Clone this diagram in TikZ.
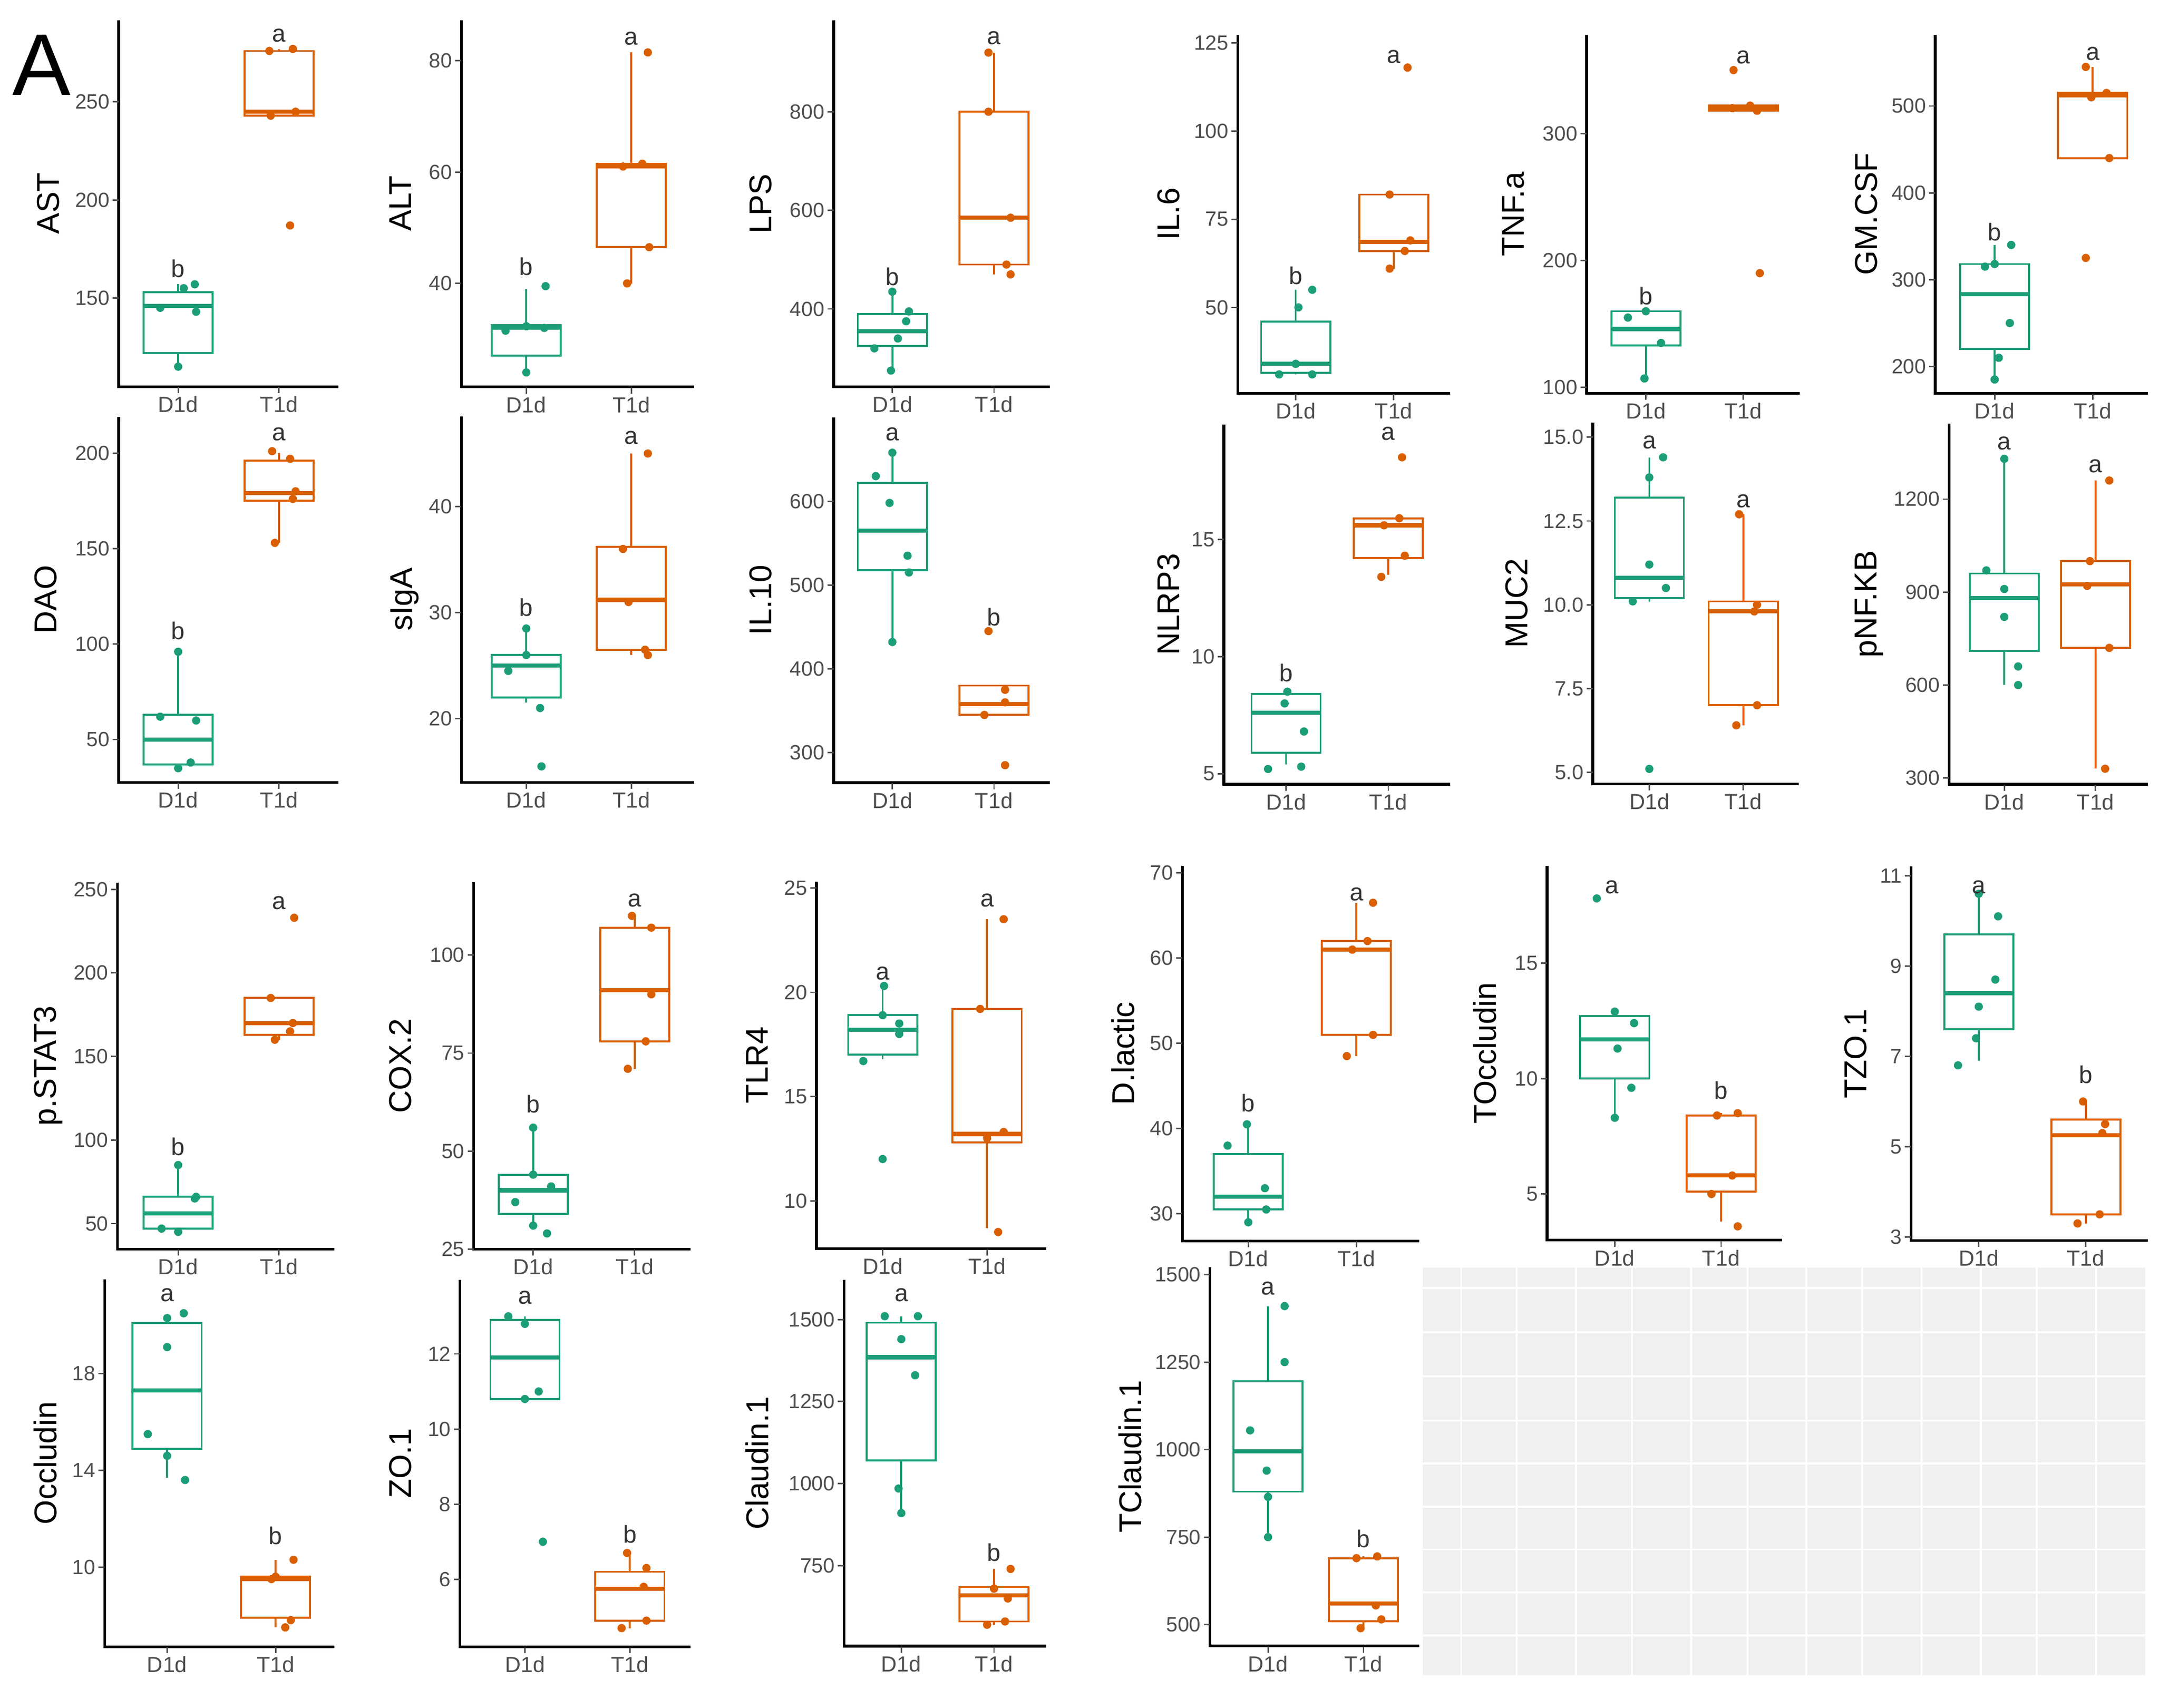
\documentclass[tikz,border=0pt]{standalone}
\usepackage{fontspec}
\setmainfont{Liberation Sans}
\usetikzlibrary{positioning}

\definecolor{dgreen}{HTML}{1B9E77}
\definecolor{dorange}{HTML}{D95F02}
\definecolor{tickgray}{HTML}{4D4D4D}

\tikzset{
  axisline/.style={line width=1.1pt, black},
  tickline/.style={line width=0.6pt, tickgray},
  xtick/.style={anchor=north, inner sep=0pt, minimum width=0.6pt, minimum height=2.5pt, fill=tickgray},
  ylab/.style={left, inner sep=1pt, text=tickgray, font=\fontsize{8.5}{9}\selectfont},
  xlab/.style={anchor=north, inner sep=1pt, outer ysep=3pt, text=tickgray, font=\fontsize{9}{10}\selectfont},
  ytitle/.style={rotate=90, font=\fontsize{13}{14}\selectfont},
  boxline/.style={line width=0.8pt},
  medline/.style={line width=1.7pt},
  dot/.style={circle, inner sep=0pt, minimum size=0.12cm},
  grp/.style={font=\fontsize{10}{11}\selectfont, text=black!80}
}

% axes: L, x D1d, x T1d, R, bottom, top, title, ticks, title offset
\newcommand{\plotaxes}[9]{
  \draw[axisline] (#1,#6) -- (#1,#5) -- (#4,#5);
  \foreach \v in {#8}
    \draw[tickline] (#1,\v) -- ([xshift=-2.5pt]#1,\v) node[ylab] {\v};
  \node[xtick] at (#2,#5) {};
  \node[xtick] at (#3,#5) {};
  \node[xlab] at (#2,#5) {D1d};
  \node[xlab] at (#3,#5) {T1d};
  \node[ytitle] at (#1-#9,{(#5+#6)/2}) {#7};
}
% box: colour, x, lo, q1, med, q3, hi
\newcommand{\bx}[7]{
  \draw[#1, boxline] (#2,#3) -- (#2,#4) (#2,#6) -- (#2,#7);
  \draw[#1, boxline] (#2-25,#4) rectangle (#2+25,#6);
  \draw[#1, medline] (#2-25,#5) -- (#2+25,#5);
}
\newcommand{\pts}[3]{\foreach \dx/\v in {#3} \node[dot, fill=#1] at (#2+\dx,\v) {};}

\begin{document}
\begin{tikzpicture}[x=0.02cm, y=-0.02cm]
\useasboundingbox (0,0) rectangle (1563,1236.5);

\node[font=\fontsize{36}{36}\selectfont] (panelA) at (30,47) {A};

% row 1
\begin{scope}[shift={(0,428.8)}, yscale=-1.42]
  \plotaxes{86}{129}{202}{245}{104.8}{291.7}{AST}{150,200,250}{51}
  \bx{dgreen}{129}{115}{122}{146}{153}{157}
  \pts{dgreen}{129}{0/115,-13/145,13/143,4/155,12/157}
  \bx{dorange}{202}{243}{243}{245}{276}{277}
  \pts{dorange}{202}{-6/243,12/245,-7/276,10/277,8/187}
  \node[grp] (astb) at (129,165) {b};
  \node[grp] (asta) at (202,284) {a};
\end{scope}
\begin{scope}[shift={(0,366.4)}, yscale=-4.03]
  \plotaxes{334}{381}{457}{502.5}{21.4}{87.3}{ALT}{40,60,80}{44}
  \bx{dgreen}{381}{24}{27}{32}{32.5}{39}
  \pts{dgreen}{381}{0/24,-15/31.5,13/32,0/32.3,14/39.5}
  \bx{dorange}{457}{40}{46.5}{61}{61.5}{81.5}
  \pts{dorange}{457}{-3/40,13/46.5,-6/61,8/61.5,12/81.5}
  \node[grp] (altb) at (381,43) {b};
  \node[grp] (alta) at (457,84) {a};
\end{scope}
\begin{scope}[shift={(0,366.5)}, yscale=-0.357]
  \plotaxes{603.5}{646}{719.6}{760}{242}{985}{LPS}{400,600,800}{53}
  \bx{dgreen}{646}{275}{325}{355}{390}{435}
  \pts{dgreen}{646}{-1/275,-13/320,4/340,10/375,12/395,0/435}
  \bx{dorange}{719.6}{470}{490}{585}{800}{920}
  \pts{dorange}{719.6}{-4/920,-4/800,12/585,9/490,12/470}
  \node[grp] (lpsb) at (646,465) {b};
  \node[grp] (lpsa) at (719.6,950) {a};
\end{scope}
\begin{scope}[shift={(0,350.3)}, yscale=-2.554]
  \plotaxes{896}{938}{1009}{1050}{25.6}{127.3}{IL.6}{50,75,100,125}{50}
  \bx{dgreen}{938}{31}{31.5}{34}{46}{55}
  \pts{dgreen}{938}{-12/31,0/34,12/31,2/50,12/55}
  \bx{dorange}{1009}{61}{66}{68.5}{82}{82}
  \pts{dorange}{1009}{-3/61,8/66,12/69,-3/82,10/118}
  \node[grp] (il6b) at (938,59) {b};
  \node[grp] (il6a) at (1009,121) {a};
\end{scope}
\begin{scope}[shift={(0,372.4)}, yscale=-0.919]
  \plotaxes{1148.6}{1191.5}{1262}{1303}{95.3}{377.7}{TNF.a}{100,200,300}{53}
  \bx{dgreen}{1191.5}{110}{133}{146}{160}{160}
  \pts{dgreen}{1191.5}{-1/107,-13/155,0/160,11/135}
  \bx{dorange}{1262}{318}{318}{320}{322}{322}
  \pts{dorange}{1262}{-7/350,5/322,10/318,-8/320,12/190}
  \node[grp] (tnfb) at (1191.5,172) {b};
  \node[grp] (tnfa) at (1262,360) {a};
\end{scope}
\begin{scope}[shift={(0,391.1)}, yscale=-0.6287]
  \plotaxes{1401}{1444}{1515}{1555}{169}{582}{GM.CSF}{200,300,400,500}{50}
  \bx{dgreen}{1444}{185}{220}{283}{318}{340}
  \pts{dgreen}{1444}{0/185,3/210,11/250,-7/315,0/318,12/340}
  \bx{dorange}{1515}{440}{440}{512}{515}{545}
  \pts{dorange}{1515}{-5/545,10/515,-1/510,12/440,-5/325}
  \node[grp] (gmb) at (1444,355) {b};
  \node[grp] (gma) at (1515,560) {a};
\end{scope}

% row 2
\begin{scope}[shift={(0,604.7)}, yscale=-1.383]
  \plotaxes{86}{129}{202}{245}{27.6}{219}{DAO}{50,100,150,200}{53}
  \bx{dgreen}{129}{35}{37}{50}{63}{97}
  \pts{dgreen}{129}{0/35,9/38,-13/62,13/60,0/96}
  \bx{dorange}{202}{153}{175}{179}{196}{200}
  \pts{dorange}{202}{-3/153,10/176,12/180,8/197,-5/201}
  \node[grp] (daob) at (129,107) {b};
  \node[grp] (daoa) at (202,210) {a};
\end{scope}
\begin{scope}[shift={(0,674)}, yscale=-7.68]
  \plotaxes{334}{381}{457}{502.5}{14}{48.5}{sIgA}{20,30,40}{41}
  \bx{dgreen}{381}{21.5}{22}{25}{26}{28.5}
  \pts{dgreen}{381}{10/21,-13/24.5,0/26,0/28.5,11/15.5}
  \bx{dorange}{457}{26}{26.5}{31.2}{36.2}{45}
  \pts{dorange}{457}{-6/36,-2/31,12/26,10/26.5,12/45}
  \node[grp] (igab) at (381,30.5) {b};
  \node[grp] (igaa) at (457,46.5) {a};
\end{scope}
\begin{scope}[shift={(0,727)}, yscale=-0.6067]
  \plotaxes{603.5}{646}{719.6}{760}{264}{700}{IL.10}{300,400,500,600}{53}
  \bx{dgreen}{646}{432}{518}{565}{622}{658}
  \pts{dgreen}{646}{-12/630,0/658,-2/598,11/535,12/515,0/432}
  \bx{dorange}{719.6}{345}{345}{358}{380}{380}
  \pts{dorange}{719.6}{-4/445,8/375,8/360,-7/345,8/285}
  \node[grp] (il10a) at (646,680) {a};
  \node[grp] (il10b) at (719.6,462) {b};
\end{scope}
\begin{scope}[shift={(0,645.1)}, yscale=-16.97]
  \plotaxes{886}{931}{1005}{1050}{4.55}{19.9}{NLRP3}{5,10,15}{40}
  \bx{dgreen}{931}{5.4}{5.9}{7.6}{8.4}{8.5}
  \pts{dgreen}{931}{-13/5.2,11/5.3,13/6.8,-1/8.0,1/8.5}
  \bx{dorange}{1005}{13.5}{14.2}{15.6}{15.9}{15.9}
  \pts{dorange}{1005}{-5/13.4,12/14.3,-3/15.6,8/15.9,10/18.5}
  \node[grp] (nlrb) at (931,9.3) {b};
  \node[grp] (nlra) at (1005,19.5) {a};
\end{scope}
\begin{scope}[shift={(0,680.5)}, yscale=-24.26]
  \plotaxes{1153}{1194}{1262}{1302}{4.65}{15.44}{MUC2}{5.0,7.5,10.0,12.5,15.0}{55}
  \bx{dgreen}{1194}{10.1}{10.2}{10.8}{13.2}{14.4}
  \pts{dgreen}{1194}{0/5.1,-12/10.1,12/10.5,0/11.2,0/13.8,10/14.4}
  \bx{dorange}{1262}{6.4}{7.0}{9.8}{10.1}{12.7}
  \pts{dorange}{1262}{-5/6.4,10/7.0,8/9.8,10/10.0,-3/12.7}
  \node[grp] (muca) at (1194,14.85) {a};
  \node[grp] (mucb) at (1262,13.1) {a};
\end{scope}
\begin{scope}[shift={(0,630.7)}, yscale=-0.2244]
  \plotaxes{1411}{1451}{1517}{1555}{280}{1443}{pNF.KB}{300,600,900,1200}{58}
  \bx{dgreen}{1451}{600}{710}{880}{960}{1330}
  \pts{dgreen}{1451}{10/600,10/660,0/820,0/910,-13/970,0/1330}
  \bx{dorange}{1517}{330}{720}{925}{1000}{1260}
  \pts{dorange}{1517}{7/330,10/720,-6/920,-4/1000,10/1260}
  \node[grp] (nfa) at (1451,1380) {a};
  \node[grp] (nfb) at (1517,1307) {a};
\end{scope}

% row 3
\begin{scope}[shift={(0,946.5)}, yscale=-1.21]
  \plotaxes{85}{129}{202}{242}{34.7}{254}{p.STAT3}{50,100,150,200,250}{50}
  \bx{dgreen}{129}{45}{47}{56}{66}{85}
  \pts{dgreen}{129}{-12/47,0/45,12/65,13/66,0/85}
  \bx{dorange}{202}{160}{163}{170}{185}{185}
  \pts{dorange}{202}{-3/160,8/165,10/170,-6/185,11/233}
  \node[grp] (statb) at (129,96) {b};
  \node[grp] (stata) at (202,242) {a};
\end{scope}
\begin{scope}[shift={(0,975.5)}, yscale=-2.839]
  \plotaxes{343}{386}{459.5}{500}{25}{118.6}{COX.2}{25,50,75,100}{53}
  \bx{dgreen}{386}{31}{34}{40}{44}{56}
  \pts{dgreen}{386}{0/31,10/29,-13/37,13/41,0/44,0/56}
  \bx{dorange}{459.5}{71}{78}{91}{107}{110}
  \pts{dorange}{459.5}{-5/71,8/78,12/90,12/107,-2/110}
  \node[grp] (coxb) at (386,62) {b};
  \node[grp] (coxa) at (459.5,114) {a};
\end{scope}
\begin{scope}[shift={(0,1020.5)}, yscale=-15.1]
  \plotaxes{591}{639}{714.6}{757.5}{7.7}{25.3}{TLR4}{10,15,20,25}{43}
  \bx{dgreen}{639}{16.8}{17}{18.2}{18.9}{20.3}
  \pts{dgreen}{639}{-14/16.7,0/12,12/18,12/18.5,0/18.9,1/20.3}
  \bx{dorange}{714.6}{8.7}{12.8}{13.2}{19.2}{23.5}
  \pts{dorange}{714.6}{-5/19.2,0/13,12/13.3,8/8.5,12/23.5}
  \node[grp] (tlra) at (639,20.9) {a};
  \node[grp] (tlrb) at (714.6,24.4) {a};
\end{scope}
\begin{scope}[shift={(0,1064)}, yscale=-6.17]
  \plotaxes{856}{903.7}{982}{1027.5}{26.8}{70.8}{D.lactic}{30,40,50,60,70}{43}
  \bx{dgreen}{903.7}{29}{30.5}{32}{37}{40.5}
  \pts{dgreen}{903.7}{0/29,13/30.5,12/33,-15/38,-1/40.5}
  \bx{dorange}{982}{48.5}{51}{61}{62}{66.5}
  \pts{dorange}{982}{-7/48.5,12/51,-3/61,8/62,12/66.5}
  \node[grp] (dlb) at (903.7,43) {b};
  \node[grp] (dla) at (982,67.5) {a};
\end{scope}
\begin{scope}[shift={(0,948.2)}, yscale=-16.72]
  \plotaxes{1120}{1169}{1246}{1290}{3.0}{19.2}{TOccludin}{5,10,15}{45}
  \bx{dgreen}{1169}{8.3}{10}{11.7}{12.7}{12.9}
  \pts{dgreen}{1169}{0/8.3,12/9.6,2/11.3,14/12.4,0/12.9,-13/17.8}
  \bx{dorange}{1246}{3.8}{5.1}{5.8}{8.4}{8.5}
  \pts{dorange}{1246}{12/3.6,-7/5.0,8/5.8,-3/8.4,12/8.5}
  \node[grp] (tocca) at (1167,18.3) {a};
  \node[grp] (toccb) at (1246,9.5) {b};
\end{scope}
\begin{scope}[shift={(0,993.8)}, yscale=-32.7]
  \plotaxes{1383.5}{1432.5}{1510}{1555}{2.92}{11.2}{TZO.1}{3,5,7,9,11}{40}
  \bx{dgreen}{1432.5}{6.9}{7.6}{8.4}{9.7}{10.6}
  \pts{dgreen}{1432.5}{-15/6.8,-2/7.4,0/8.1,12/8.7,14/10.1,0/10.6}
  \bx{dorange}{1510}{3.3}{3.5}{5.25}{5.6}{6.0}
  \pts{dorange}{1510}{-6/3.3,10/3.5,12/5.3,14/5.5,-2/6.0}
  \node[grp] (tzoa) at (1432.5,10.75) {a};
  \node[grp] (tzob) at (1510,6.6) {b};
\end{scope}

% row 4
\begin{scope}[shift={(0,1309.7)}, yscale=-17.5]
  \plotaxes{75.8}{121}{199.5}{242}{6.7}{21.9}{Occludin}{10,14,18}{43}
  \bx{dgreen}{121}{13.7}{14.9}{17.3}{20.1}{20.4}
  \pts{dgreen}{121}{13/13.6,0/14.6,-14/15.5,0/19.1,0/20.3,12/20.5}
  \bx{dorange}{199.5}{7.5}{7.9}{9.5}{9.6}{10.3}
  \pts{dorange}{199.5}{7/7.5,11/7.8,-3/9.5,0/9.6,13/10.3}
  \node[grp] (occa) at (121,21.25) {a};
  \node[grp] (occb) at (199.5,11.3) {b};
\end{scope}
\begin{scope}[shift={(0,1306.8)}, yscale=-27.2]
  \plotaxes{333}{380}{456}{500}{4.2}{13.97}{ZO.1}{6,8,10,12}{43}
  \bx{dgreen}{380}{10.8}{10.8}{11.9}{12.9}{13.0}
  \pts{dgreen}{380}{13/7.0,0/10.8,10/11.0,0/12.8,-12/13.0}
  \bx{dorange}{456}{4.7}{4.9}{5.75}{6.2}{6.7}
  \pts{dorange}{456}{-6/4.7,12/4.9,10/5.8,12/6.3,-2/6.7}
  \node[grp] (zoa) at (380,13.5) {a};
  \node[grp] (zob) at (456,7.2) {b};
\end{scope}
\begin{scope}[shift={(0,1312)}, yscale=-0.2377]
  \plotaxes{611}{652.5}{719.6}{757.5}{505}{1620}{Claudin.1}{750,1000,1250,1500}{63}
  \bx{dgreen}{652.5}{910}{1070}{1385}{1490}{1510}
  \pts{dgreen}{652.5}{0/910,-2/985,10/1330,0/1440,-12/1510,12/1510}
  \bx{dorange}{719.6}{570}{580}{660}{685}{740}
  \pts{dorange}{719.6}{-5/570,8/580,10/650,0/680,12/740}
  \node[grp] (clda) at (652.5,1575) {a};
  \node[grp] (cldb) at (719.6,790) {b};
\end{scope}
\begin{scope}[shift={(0,1303.2)}, yscale=-0.2535]
  \plotaxes{876}{918}{987}{1027.5}{439}{1521}{TClaudin.1}{500,750,1000,1250,1500}{58}
  \bx{dgreen}{918}{750}{880}{995}{1195}{1410}
  \pts{dgreen}{918}{0/750,0/865,-1/940,-13/1055,12/1250,12/1410}
  \bx{dorange}{987}{490}{510}{560}{690}{695}
  \pts{dorange}{987}{-2/490,13/515,9/555,-5/690,10/695}
  \node[grp] (tclda) at (918,1460) {a};
  \node[grp] (tcldb) at (987,745) {b};
\end{scope}

% empty panel
\fill[black!6] (1030,918) rectangle (1553,1213);
\foreach \gx in {1057.7,1098,1141,1181.5,1224.4,1265,1307.7,1348,1391,1434,1474.4,1517.3}
  \draw[white, line width=0.8pt] (\gx,918) -- (\gx,1213);
\foreach \gy in {932.5,964.6,996.6,1028.7,1059.8,1090.9,1122,1153.1,1184.2}
  \draw[white, line width=0.8pt] (1030,\gy) -- (1553,\gy);
\end{tikzpicture}
\end{document}
